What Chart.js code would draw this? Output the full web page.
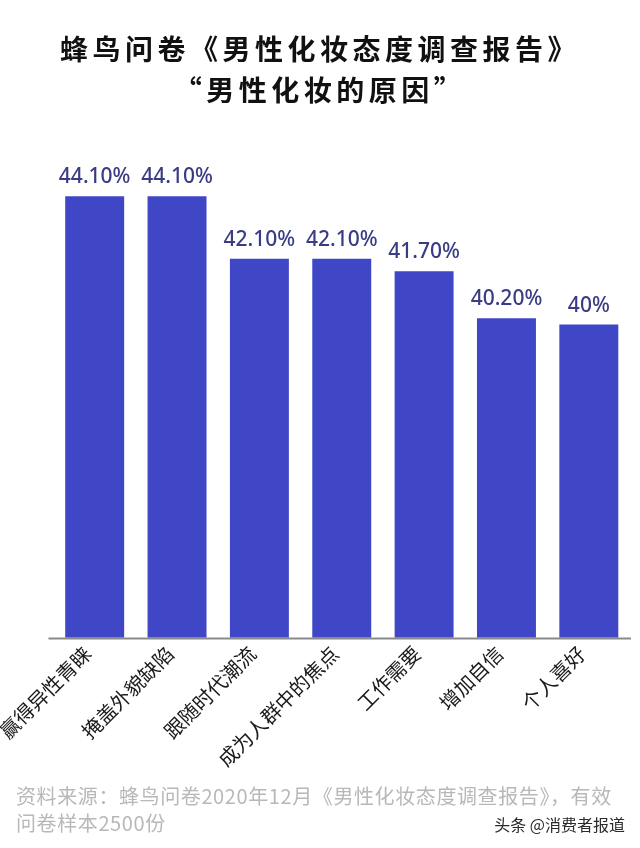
<!DOCTYPE html>
<html>
<head>
<meta charset="utf-8">
<script src="https://cdn.jsdelivr.net/npm/chart.js@4.4.1/dist/chart.umd.min.js"></script>
<style>
  html, body { margin:0; padding:0; background:#fff; }
  #wrap { position:relative; width:640px; height:848px; overflow:hidden; }
  canvas { position:absolute; left:0; top:0; }
  .t { position:absolute; left:0; width:640px; text-align:center; font-family:"Noto Sans CJK SC"; font-weight:700; font-size:28px; color:#111; letter-spacing:4.5px; line-height:40px; white-space:nowrap; }
  .src { position:absolute; left:16px; font-family:"Noto Sans CJK SC"; font-size:20px; color:#b8b8b8; line-height:27px; letter-spacing:0.6px; white-space:nowrap; }
  .wm { position:absolute; right:15px; top:812px; font-family:"Noto Sans CJK SC"; font-size:16px; color:#2a2a2a; line-height:24px; white-space:nowrap; }
</style>
</head>
<body>
<div id="wrap">
  <canvas id="c" width="640" height="848"></canvas>
  <div class="t" style="top:28px;">蜂鸟问卷《男性化妆态度调查报告》</div>
  <div class="t" style="top:69px;">“男性化妆的原因”</div>
  <div class="src" style="top:782px;">资料来源：蜂鸟问卷2020年12月《男性化妆态度调查报告》，有效<br>问卷样本2500份</div>
  <div class="wm">头条 @消费者报道</div>
</div>
<script>
const categories = ["赢得异性青睐", "掩盖外貌缺陷", "跟随时代潮流", "成为人群中的焦点", "工作需要", "增加自信", "个人喜好"];
const values = [44.1, 44.1, 42.1, 42.1, 41.7, 40.2, 40];
const valueLabels = ["44.10%", "44.10%", "42.10%", "42.10%", "41.70%", "40.20%", "40%"];
const yMin = 30;
const yMax = 46;

const BAR_COLOR = "#3f47c6";
const LABEL_COLOR = "#3a3c84";

const axisLine = {
  id: "axisLine",
  beforeDatasetsDraw(chart) {
    const { ctx, chartArea } = chart;
    ctx.save();
    ctx.strokeStyle = "#8a8a8a";
    ctx.lineWidth = 2;
    ctx.beginPath();
    ctx.moveTo(chartArea.left - 5, chartArea.bottom + 1);
    ctx.lineTo(chartArea.right + 1, chartArea.bottom + 1);
    ctx.stroke();
    ctx.restore();
  }
};

const valueLabelPlugin = {
  id: "valueLabels",
  afterDatasetsDraw(chart) {
    const { ctx } = chart;
    const meta = chart.getDatasetMeta(0);
    ctx.save();
    ctx.fillStyle = LABEL_COLOR;
    ctx.font = "500 21px 'Noto Sans'";
    ctx.textAlign = "center";
    ctx.textBaseline = "alphabetic";
    meta.data.forEach((bar, i) => {
      ctx.fillText(valueLabels[i], bar.x, bar.y - 13);
    });
    ctx.restore();
  }
};

new Chart(document.getElementById("c"), {
  type: "bar",
  data: {
    labels: categories,
    datasets: [{
      data: values,
      backgroundColor: BAR_COLOR,
      borderWidth: 0,
      barPercentage: 0.716,
      categoryPercentage: 1.0
    }]
  },
  options: {
    responsive: false,
    animation: false,
    devicePixelRatio: 1,
    layout: { padding: { top: 136.7, bottom: 80.5, left: 53.5, right: 10 } },
    plugins: { legend: { display: false }, tooltip: { enabled: false } },
    scales: {
      x: {
        grid: { display: false, drawTicks: false },
        border: { display: false },
        ticks: {
          color: "#1a1a1a",
          font: { family: "'Noto Sans CJK SC'", size: 20 },
          minRotation: 45,
          maxRotation: 45,
          padding: 4,
          labelOffset: -7,
          autoSkip: false
        },
        afterFit(scale) { scale.height = 130; }
      },
      y: {
        display: false,
        min: yMin,
        max: yMax
      }
    }
  },
  plugins: [axisLine, valueLabelPlugin]
});
</script>
</body>
</html>
